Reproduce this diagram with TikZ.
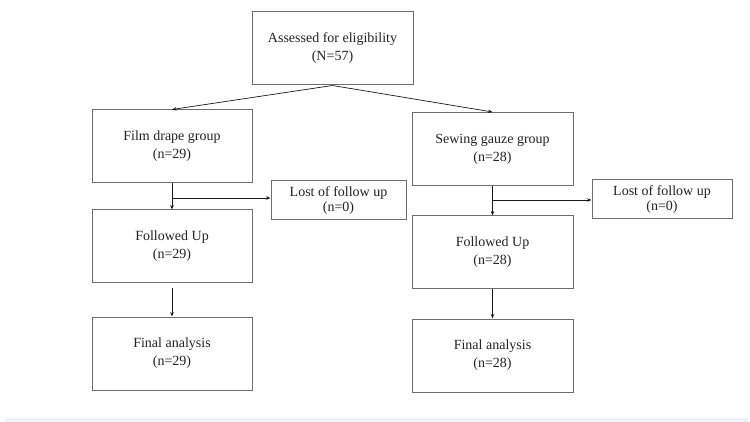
\documentclass[tikz,border=0pt]{standalone}
\usepackage{fontspec}
\setmainfont{Liberation Serif}
\usetikzlibrary{arrows.meta}

\definecolor{boxgray}{HTML}{6E6E6E}
\definecolor{stripblue}{HTML}{EEF3FA}
\definecolor{txt}{HTML}{222222}

\tikzset{
  box/.style={draw=boxgray, line width=1pt, inner sep=0pt, align=center, text=txt,
    font=\fontsize{14}{18}\selectfont},
  bigbox/.style={box, minimum width=160pt, minimum height=73pt,
    execute at begin node={\rule{0pt}{17pt}}},
  lostbox/.style={box, minimum height=39pt, font=\fontsize{14}{15}\selectfont},
  arr/.style={-{Stealth[length=4.5pt,width=3.5pt]}, line width=0.7pt, draw=black!90},
}

\begin{document}
\begin{tikzpicture}[x=1pt,y=-1pt]
  \useasboundingbox (0,0) rectangle (750,422);
  \fill[stripblue] (5,418) rectangle (748,422);

  \node[bigbox, minimum width=161pt] (assess) at (332.5,48.5) {Assessed for eligibility\\(N=57)};

  % film drape side
  \node[bigbox] (film) at (172,146.5) {Film drape group\\(n=29)};
  \node[lostbox, minimum width=135pt] (lostL) at (338.5,200.5) {Lost of follow up\\(n=0)};
  \node[bigbox] (followL) at (172,246.5) {Followed Up\\(n=29)};
  \node[bigbox] (finalL) at (172,353.5) {Final analysis\\(n=29)};

  % sewing gauze side
  \node[bigbox, minimum width=161pt] (sewing) at (492.5,149) {Sewing gauze group\\(n=28)};
  \node[lostbox, minimum width=140pt] (lostR) at (662,199.5) {Lost of follow up\\(n=0)};
  \node[bigbox, minimum width=161pt] (followR) at (492.5,252.5) {Followed Up\\(n=28)};
  \node[bigbox, minimum width=161pt] (finalR) at (492.5,355.5) {Final analysis\\(n=28)};

  \draw[arr] (assess.south) -- (film.north);
  \draw[arr] (assess.south) -- (sewing.north);

  \coordinate (brL) at (film.south |- 0,198);
  \coordinate (brR) at (sewing.south |- 0,200);
  \draw[arr] (film.south) -- (followL.north);
  \draw[arr] (brL) -- (brL -| lostL.west);
  \draw[arr] (sewing.south) -- (followR.north);
  \draw[arr] (brR) -- (brR -| lostR.west);

  \draw[arr, shorten <=5pt] (followL.south) -- (finalL.north);
  \draw[arr] (followR.south) -- (finalR.north);
\end{tikzpicture}
\end{document}
